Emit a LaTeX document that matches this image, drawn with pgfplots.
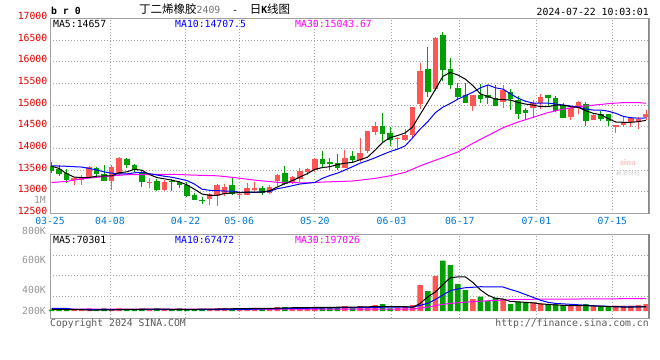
\documentclass[border=0pt]{standalone}
\usepackage{fontspec}
\setmonofont{DejaVu Sans Mono}
\newfontfamily\cjk{Noto Sans CJK SC}
\usepackage{pgfplots}
\usepackage{pgfplotstable}
\pgfplotsset{compat=1.18}
\definecolor{cred}{RGB}{255,85,85}
\definecolor{cgreen}{RGB}{0,160,0}
\definecolor{cma10}{RGB}{0,0,255}
\definecolor{cma30}{RGB}{255,0,255}
\definecolor{cgrid}{RGB}{165,165,165}
\definecolor{cframe}{RGB}{160,160,160}
\definecolor{cdate}{RGB}{0,120,215}
\definecolor{ctick}{RGB}{230,0,0}
\definecolor{cvol}{RGB}{150,150,150}
\newcommand\mf{\fontsize{9.8bp}{11bp}\selectfont\ttfamily}

% up (red) candles: index, open, high, low, close, volume (K)
\pgfplotstableread{
i o h l c v
3 13275 13351 13160 13313 21
4 13275 13389 13160 13328 21
5 13351 13603 13328 13572 43
8 13259 13618 13046 13580 21
9 13405 13794 13389 13771 43
13 13198 13313 13092 13221 21
15 13046 13275 13023 13237 21
21 12828 12973 12706 12950 21
22 12904 13187 12668 13164 43
23 12950 13187 12897 13111 43
25 12920 12996 12843 12945 21
26 12935 13202 12920 13095 43
27 13050 13225 13027 13095 43
29 12973 13164 12950 13118 43
30 13256 13408 13126 13393 63
32 13202 13355 13179 13332 43
33 13301 13546 13225 13485 63
34 13454 13561 13393 13531 52
35 13508 13775 13447 13752 63
39 13560 13960 13546 13790 79
41 13735 14250 13697 13901 79
42 13940 14400 13886 14394 63
43 14379 14622 14303 14515 95
46 14210 14260 13985 14250 52
47 14190 14455 14180 14318 79
48 14303 14960 14243 14947 95
49 15023 15971 14910 15781 411
51 15364 16580 15330 16540 553
56 14985 15240 14856 15228 190
60 15078 15458 14924 15346 190
64 14940 15115 14695 15040 137
65 15050 15250 14910 15180 121
69 14733 14962 14656 14945 95
70 14947 15092 14786 15069 95
72 14658 14810 14658 14772 84
75 14490 14550 14350 14543 84
76 14543 14725 14504 14619 84
77 14610 14710 14500 14700 84
78 14610 14725 14440 14685 95
79 14725 14900 14660 14800 111
}\upT

% down (green) candles
\pgfplotstableread{
i o h l c v
0 13595 13680 13427 13488 21
1 13519 13618 13374 13420 21
2 13427 13519 13198 13275 21
6 13542 13580 13374 13412 21
7 13412 13618 13259 13259 43
10 13756 13771 13542 13618 21
11 13618 13641 13466 13496 21
12 13450 13504 13107 13237 43
14 13259 13290 13023 13046 43
16 13259 13297 13023 13221 21
17 13229 13259 13084 13160 43
18 13150 13237 12878 12910 21
19 12935 12969 12802 12820 21
20 12820 12874 12729 12782 21
24 13164 13332 12935 12958 43
28 13088 13126 12920 12973 43
31 13431 13599 13164 13179 63
36 13760 13943 13584 13645 63
37 13683 13790 13508 13645 63
38 13660 13866 13508 13561 63
40 13826 13940 13659 13735 63
44 14515 14819 14152 14326 111
45 14364 14493 14061 14190 43
50 15834 16350 15198 15304 316
52 16614 16690 15554 15818 795
53 15834 16100 15364 15455 727
54 15402 15516 15122 15198 427
55 15228 15516 15046 15061 332
57 15236 15478 15046 15152 226
58 15236 15455 15023 15175 158
59 15175 15455 14985 14985 211
61 15300 15370 14900 15140 111
62 15130 15220 14690 14796 147
63 14885 14924 14656 14824 137
66 15230 15235 14985 15165 111
67 15176 15214 14847 14870 111
68 15015 15040 14710 14710 95
71 15038 15076 14520 14640 111
73 14794 14863 14634 14679 74
74 14786 14786 14530 14640 74
}\downT

\begin{document}
\begin{tikzpicture}
\path[use as bounding box] (0,0) rectangle (660bp,-360bp);

% ---------------- price panel
\begin{axis}[
  at={(50bp,-18.5bp)}, anchor=north west,
  scale only axis, width=599bp, height=195bp,
  xmin=-0.2, xmax=79.4, ymin=12500, ymax=17000,
  scaled ticks=false,
  axis line style={draw=cframe, line width=0.8bp},
  xtick={-0.2,7.77,17.82,24.94,34.99,45.18,54.25,64.44,74.53},
  xticklabels={03-25,04-08,04-22,05-06,05-20,06-03,06-17,07-01,07-15},
  xticklabel style={font=\mf, text=cdate, anchor=north, inner sep=0pt, yshift=-4bp},
  ytick={12500,13000,13500,14000,14500,15000,15500,16000,16500,17000},
  yticklabels={12500,13000,13500,14000,14500,15000,15500,16000,16500,17000},
  yticklabel style={font=\mf, text=ctick, anchor=east, inner sep=0pt, xshift=-2.5bp, yshift=2.5bp},
  major tick length=0pt,
  grid=major, major grid style={draw=cgrid, dash pattern=on 1bp off 2bp, line width=0.8bp},
  clip=true,
]
% wicks
\addplot[draw=none, mark=none, error bars/.cd, y dir=plus, y explicit, error mark=none,
  error bar style={line width=1bp, draw=cred}]
  table[x=i, y=l, y error plus expr=\thisrow{h}-\thisrow{l}] {\upT};
\addplot[draw=none, mark=none, error bars/.cd, y dir=plus, y explicit, error mark=none,
  error bar style={line width=1bp, draw=cgreen}]
  table[x=i, y=l, y error plus expr=\thisrow{h}-\thisrow{l}] {\downT};
% bodies
\addplot[draw=none, mark=none, error bars/.cd, y dir=plus, y explicit, error mark=none,
  error bar style={line width=5.5bp, draw=cred}]
  table[x=i, y=o, y error plus expr=\thisrow{c}-\thisrow{o}] {\upT};
\addplot[draw=none, mark=none, error bars/.cd, y dir=plus, y explicit, error mark=none,
  error bar style={line width=5.5bp, draw=cgreen}]
  table[x=i, y=c, y error plus expr=\thisrow{o}-\thisrow{c}] {\downT};
% MA30
\addplot[cma30, line width=1bp, mark=none] coordinates {
(0,13215)(2,13240)(4,13300)(6,13335)(8,13370)(10,13395)(13,13400)(16,13405)(19,13385)
(22,13370)(24,13335)(27,13270)(30,13220)(34,13205)(36,13225)(40,13250)(43,13310)
(45,13370)(47,13450)(49,13600)(52,13790)(54,13920)(56,14120)(58,14300)(60,14480)
(62,14610)(64,14720)(66,14830)(68,14910)(70,14965)(72,15000)(74,15035)(76,15060)
(78,15060)(79,15044)};
% MA10
\addplot[cma10, line width=1bp, mark=none] coordinates {
(0,13600)(1,13595)(2,13590)(3,13580)(4,13572)(5,13540)(6,13504)(7,13460)(8,13430)
(9,13412)(10,13412)(11,13440)(12,13443)(13,13420)(14,13389)(15,13360)(16,13336)
(17,13300)(18,13260)(19,13179)(20,13060)(21,13035)(22,13027)(23,13019)(24,13019)
(25,12990)(26,12988)(27,12988)(28,12996)(29,13010)(30,13073)(31,13103)(32,13141)
(33,13180)(34,13200)(35,13217)(36,13310)(37,13378)(38,13431)(39,13504)(40,13580)
(41,13660)(42,13720)(43,13786)(44,13860)(45,13930)(46,13985)(47,14061)(48,14250)
(49,14450)(50,14620)(51,14825)(52,14954)(53,15040)(54,15140)(55,15220)(56,15300)
(57,15400)(58,15466)(59,15400)(60,15370)(61,15260)(62,15160)(63,15090)(64,15048)
(65,15048)(66,15048)(67,15025)(68,15002)(69,14980)(70,14955)(71,14910)(72,14888)
(73,14888)(74,14860)(75,14811)(76,14740)(77,14710)(78,14700)(79,14705)};
% MA5
\addplot[black, line width=1bp, mark=none] coordinates {
(0,13595)(1,13540)(2,13420)(3,13340)(4,13330)(5,13330)(6,13360)(7,13366)(8,13366)
(9,13440)(10,13460)(11,13519)(12,13500)(13,13400)(14,13330)(15,13300)(16,13270)
(17,13230)(18,13160)(19,13060)(20,12950)(21,12920)(22,12920)(23,12960)(24,12975)
(25,12981)(26,12996)(27,12996)(28,12996)(29,13027)(30,13110)(31,13190)(32,13260)
(33,13340)(34,13420)(35,13520)(36,13560)(37,13580)(38,13630)(39,13660)(40,13680)
(41,13740)(42,13800)(43,13962)(44,14140)(45,14250)(46,14300)(47,14360)(48,14500)
(49,14790)(50,15070)(51,15360)(52,15664)(53,15756)(54,15695)(55,15600)(56,15450)
(57,15260)(58,15200)(59,15140)(60,15130)(61,15117)(62,15063)(63,15025)(64,15002)
(65,14964)(66,14964)(67,15002)(68,15002)(69,14964)(70,14949)(71,14872)(72,14811)
(73,14780)(74,14690)(75,14610)(76,14605)(77,14605)(78,14620)(79,14650)};
\draw[cframe!85!black, line width=2bp] (rel axis cs:1,0) -- (rel axis cs:1,1);
\end{axis}

% ---------------- volume panel
\begin{axis}[
  at={(50bp,-234bp)}, anchor=north west,
  scale only axis, width=599bp, height=84bp,
  xmin=-0.2, xmax=79.4, ymin=-110, ymax=1217,
  scaled ticks=false,
  axis line style={draw=cframe, line width=0.8bp},
  xtick={-0.2,7.77,17.82,24.94,34.99,45.18,54.25,64.44,74.53},
  xticklabels={}, ytick={237,569,885}, yticklabels={},
  major tick length=0pt,
  grid=major, major grid style={draw=cgrid, dash pattern=on 1bp off 2bp, line width=0.8bp},
  clip=false,
]
\addplot[ybar, bar width=5.5bp, bar shift=0pt, fill=cred, draw=none] table[x=i, y=v] {\upT};
\addplot[ybar, bar width=5.5bp, bar shift=0pt, fill=cgreen, draw=none] table[x=i, y=v] {\downT};
% volume MA30
\addplot[cma30, line width=1bp, mark=none] coordinates {
(0,30)(48,32)(49,45)(50,63)(51,85)(52,106)(53,120)(54.6,137)(57.3,158)(60,174)(62,185)
(70,190)(79,197)};
% volume MA10
\addplot[cma10, line width=1bp, mark=none] coordinates {
(0,42)(2,42)(3,25)(12,22)(24,22)(28,32)(32,40)(36,48)(40,55)(44,60)(48,63)(49,90)
(50,122)(51,180)(52,253)(53,321)(54,350)(55,368)(57,384)(60,380)(61,340)(62,305)
(63,260)(64,216)(65,170)(66,137)(67,120)(69,106)(72,84)(75,68)(79,67)};
% volume MA5
\addplot[black, line width=1bp, mark=none] coordinates {
(0,26)(4,22)(5,16)(8,18)(10,26)(14,30)(18,26)(22,32)(26,40)(29,42)(32,52)(36,58)
(40,62)(44,72)(47,70)(48,60)(49,120)(50,225)(51,300)(52,420)(53,525)(54,540)(55,540)
(56,450)(57,335)(58,250)(59,200)(60,190)(61,150)(62,145)(63,137)(64,130)(65,112)
(66,105)(67,95)(68,90)(69,85)(70,85)(71,84)(72,80)(73,78)(74,72)(75,66)(76,63)
(77,63)(78,66)(79,70)};
\draw[cframe!85!black, line width=2bp] (rel axis cs:1,0) -- (rel axis cs:1,1);
\node[anchor=east, font=\mf, text=cvol, inner sep=0pt] at (axis cs:-0.2,1754) [xshift=-4bp] {1M};
\node[anchor=east, font=\mf, text=cvol, inner sep=0pt] at (axis cs:-0.2,1269) [xshift=-4bp] {800K};
\node[anchor=east, font=\mf, text=cvol, inner sep=0pt] at (axis cs:-0.2,806) [xshift=-4bp] {600K};
\node[anchor=east, font=\mf, text=cvol, inner sep=0pt] at (axis cs:-0.2,327) [xshift=-4bp] {400K};
\node[anchor=east, font=\mf, text=cvol, inner sep=0pt] at (axis cs:-0.2,0) [xshift=-4bp] {200K};
\end{axis}

% ---------------- header and texts
\node[anchor=west, font=\mf\bfseries, inner sep=0pt] at (51bp,-11bp) {b r 0};
\node[anchor=west, inner sep=0pt] at (139bp,-9bp) {{\cjk\fontsize{11.5bp}{12bp}\selectfont 丁二烯橡胶}{\mf\color{black!55}2409}{\mf\ \ -\ \ }{\cjk\fontsize{11.5bp}{12bp}\selectfont 日}{\mf\bfseries K}{\cjk\fontsize{11.5bp}{12bp}\selectfont 线图}};
\node[anchor=east, font=\mf, inner sep=0pt] at (649bp,-12bp) {2024-07-22 10:03:01};
\node[anchor=west, font=\mf, inner sep=0pt] at (53bp,-24bp) {MA5:14657};
\node[anchor=west, font=\mf, text=cma10, inner sep=0pt] at (175bp,-24bp) {MA10:14707.5};
\node[anchor=west, font=\mf, text=cma30, inner sep=0pt] at (295bp,-24bp) {MA30:15043.67};
\node[anchor=west, font=\mf, inner sep=0pt] at (53bp,-240bp) {MA5:70301};
\node[anchor=west, font=\mf, text=cma10, inner sep=0pt] at (175bp,-240bp) {MA10:67472};
\node[anchor=west, font=\mf, text=cma30, inner sep=0pt] at (295bp,-240bp) {MA30:197026};
\node[anchor=west, font=\mf, text=black!65, inner sep=0pt] at (50bp,-324bp) {Copyright 2024 SINA.COM};
\node[anchor=east, font=\mf, text=black!65, inner sep=0pt] at (649bp,-324bp) {http://finance.sina.com.cn};
\node[font=\sffamily\bfseries\fontsize{9bp}{10bp}\selectfont, text=red!25, inner sep=0pt] at (628bp,-163bp) {sina};
\node[font=\cjk\fontsize{6bp}{7bp}\selectfont, text=black!20, inner sep=0pt] at (628bp,-173bp) {新浪财经};
\end{tikzpicture}
\end{document}
